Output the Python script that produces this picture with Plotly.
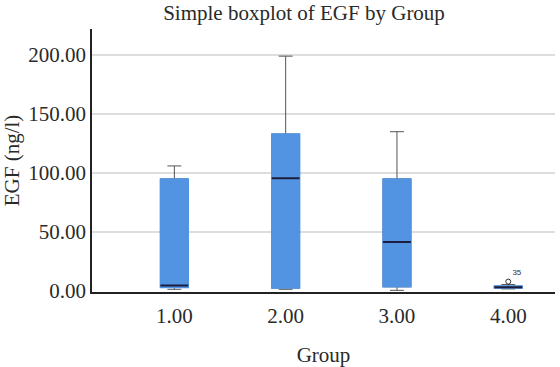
import plotly.graph_objects as go

groups = [1, 2, 3, 4]
tick_labels = ["1.00", "2.00", "3.00", "4.00"]
lower_whisker = [1.5, 1.5, 0.6, 1.8]
q1 = [3.0, 2.5, 3.6, 2.5]
median = [4.8, 95.5, 41.5, 3.2]
q3 = [95.0, 133.0, 95.0, 4.2]
upper_whisker = [106.0, 199.0, 135.0, 5.5]
outlier_x = [4]
outlier_y = [8.0]
outlier_labels = ["35"]

FONT = "Liberation Serif"
TXT = "#2a2a2a"
BOX_BLUE = "#5294E2"
NAVY = "#1C1C3C"
WHISK = "#555555"
W = 0.25

FW, FH = 560, 367

fig = go.Figure()
# whiskers + outline (gray)
fig.add_trace(go.Box(x=groups, q1=q1, median=median, q3=q3,
                     lowerfence=lower_whisker, upperfence=upper_whisker,
                     width=W, whiskerwidth=0.5, fillcolor=BOX_BLUE,
                     line=dict(color=WHISK, width=1), boxpoints=False,
                     hoverinfo="skip", showlegend=False))
# box body covering outline in blue
fig.add_trace(go.Box(x=groups, q1=q1, median=median, q3=q3,
                     lowerfence=q1, upperfence=q3,
                     width=W, whiskerwidth=0, fillcolor=BOX_BLUE,
                     line=dict(color=BOX_BLUE, width=1.5), boxpoints=False,
                     hoverinfo="skip", showlegend=False))
# median lines
fig.add_trace(go.Box(x=groups, q1=median, median=median, q3=median,
                     lowerfence=median, upperfence=median,
                     width=W, whiskerwidth=0, fillcolor="rgba(0,0,0,0)",
                     line=dict(color=NAVY, width=2), boxpoints=False,
                     hoverinfo="skip", showlegend=False))
# outliers
fig.add_trace(go.Scatter(x=outlier_x, y=outlier_y, mode="markers+text",
                         marker=dict(symbol="circle-open", size=5, color="#333333", line=dict(width=1)),
                         text=outlier_labels, textposition="top right",
                         textfont=dict(family="Liberation Sans", size=8, color="#333333"),
                         hoverinfo="skip", showlegend=False))

fig.update_layout(
    width=FW, height=FH,
    margin=dict(l=92, r=5, t=29, b=75),
    paper_bgcolor="white", plot_bgcolor="white",
    boxmode="overlay",
    title=dict(text="Simple boxplot of EGF by Group", x=304 / FW, xanchor="center",
               xref="container",
               y=1 - 13 / FH, yref="container", yanchor="middle",
               font=dict(family=FONT, size=21, color=TXT)),
    font=dict(family=FONT, color=TXT),
)
fig.update_xaxes(range=[0.26, 4.42], tickvals=groups, ticktext=tick_labels,
                 automargin=False, ticklabelstandoff=4,
                 showgrid=False, zeroline=False, showline=True, linecolor="#222222",
                 linewidth=1.5, ticks="", tickfont=dict(size=21),
                 title=dict(text="Group", font=dict(size=21), standoff=20))
fig.update_yaxes(range=[-0.8, 222], tickvals=[0, 50, 100, 150, 200],
                 ticktext=["0.00", "50.00", "100.00", "150.00", "200.00"],
                 automargin=False,
                 showgrid=True, gridcolor="#DDDDDD", gridwidth=1.5,
                 zeroline=False, showline=True, linecolor="#222222", linewidth=1.5,
                 ticks="", tickfont=dict(size=21),
                 title=dict(text="EGF (ng/l)", font=dict(size=21), standoff=10))

fig.write_html("out.html", config={"displayModeBar": False},
               post_script="document.body.style.margin='0';")
